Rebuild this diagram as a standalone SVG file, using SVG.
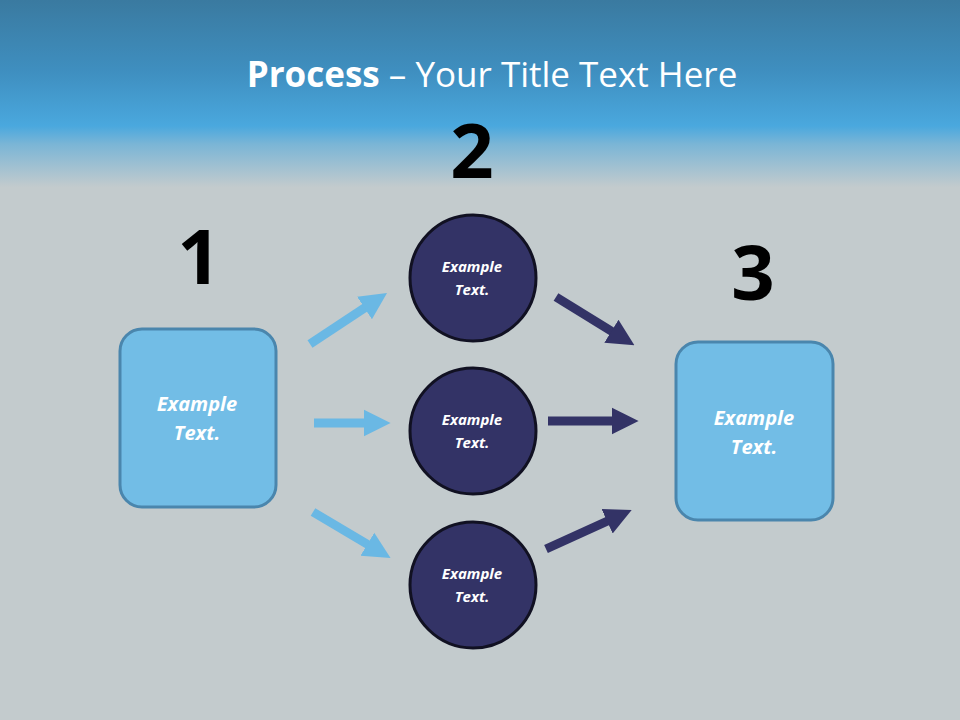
<svg xmlns="http://www.w3.org/2000/svg" width="960" height="720" viewBox="0 0 960 720">
<defs>
<linearGradient id="bg" x1="0" y1="0" x2="0" y2="1">
<stop offset="0" stop-color="#3a7aa0"/>
<stop offset="0.1" stop-color="#3f8fc0"/>
<stop offset="0.175" stop-color="#4aa8de"/>
<stop offset="0.2" stop-color="#7ab5d6"/>
<stop offset="0.26" stop-color="#c3cbcd"/>
<stop offset="1" stop-color="#c3cbcd"/>
</linearGradient>
<marker id="hl" viewBox="0 0 10 10" refX="2" refY="5" markerWidth="3" markerHeight="3.4" orient="auto" markerUnits="strokeWidth"><path d="M0,0 L10,5 L0,10 Z" fill="#6ab8e4"/></marker>
<marker id="hd" viewBox="0 0 10 10" refX="2" refY="5" markerWidth="3" markerHeight="3.4" orient="auto" markerUnits="strokeWidth"><path d="M0,0 L10,5 L0,10 Z" fill="#333366"/></marker>
<style>
.box{fill:#72bde6;stroke:#4a86ad;stroke-width:3}
.circ{fill:#333366;stroke:#111122;stroke-width:3}
.bt{font-family:"Open Sans","Liberation Sans",sans-serif;font-weight:bold;font-style:italic;fill:#fff;text-anchor:middle}
.num{font-family:"Open Sans","Liberation Sans",sans-serif;font-weight:bold;font-size:76px;fill:#000;text-anchor:middle}
.la{stroke:#6ab8e4;stroke-width:9;fill:none;marker-end:url(#hl)}
.da{stroke:#333366;stroke-width:9;fill:none;marker-end:url(#hd)}
</style>
</defs>
<rect width="960" height="720" fill="url(#bg)"/>
<text x="492" y="87" font-family="Open Sans, Liberation Sans, sans-serif" font-size="35" fill="#fff" text-anchor="middle"><tspan font-weight="bold">Process</tspan> – Your Title Text Here</text>
<text class="num" x="199" y="284">1</text>
<text class="num" x="472" y="178">2</text>
<text class="num" x="753" y="300">3</text>
<g id="connectors">
<line class="la" x1="310" y1="344" x2="369" y2="305"/>
<line class="la" x1="314" y1="423" x2="369" y2="423"/>
<line class="la" x1="313" y1="512" x2="372" y2="547"/>
<line class="da" x1="556" y1="297" x2="616" y2="334"/>
<line class="da" x1="548" y1="421" x2="617" y2="421"/>
<line class="da" x1="546" y1="549" x2="612" y2="519"/>
</g>
<g id="box1"><rect class="box" x="120" y="329" width="156" height="178" rx="22"/><text class="bt" x="197" y="411" font-size="20">Example</text><text class="bt" x="197" y="440" font-size="20">Text.</text></g>
<g id="box3"><rect class="box" x="676" y="342" width="157" height="178" rx="22"/><text class="bt" x="754" y="425" font-size="20">Example</text><text class="bt" x="754" y="454" font-size="20">Text.</text></g>
<g id="c1"><circle class="circ" cx="473" cy="278" r="63"/><text class="bt" x="472" y="272" font-size="15">Example</text><text class="bt" x="472" y="295" font-size="15">Text.</text></g>
<g id="c2"><circle class="circ" cx="473" cy="431" r="63"/><text class="bt" x="472" y="425" font-size="15">Example</text><text class="bt" x="472" y="448" font-size="15">Text.</text></g>
<g id="c3"><circle class="circ" cx="473" cy="585" r="63"/><text class="bt" x="472" y="579" font-size="15">Example</text><text class="bt" x="472" y="602" font-size="15">Text.</text></g>
</svg>
